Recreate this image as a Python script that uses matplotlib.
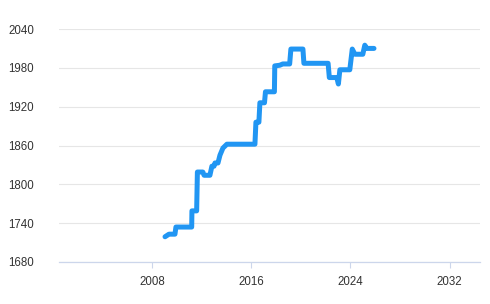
import matplotlib
matplotlib.use("Agg")
from matplotlib import pyplot as plt

plt.rcParams['font.family'] = ['Liberation Sans', 'DejaVu Sans']

# rating over time
years = [2009.05, 2009.37, 2009.85, 2009.93, 2011.2, 2011.22, 2011.6, 2011.66,
         2012.1, 2012.2, 2012.67, 2012.83, 2013.0, 2013.08, 2013.32, 2013.48,
         2013.72, 2014.04, 2016.3, 2016.38, 2016.62, 2016.7, 2017.07, 2017.15,
         2017.87, 2017.9, 2018.3, 2018.55, 2019.1, 2019.2, 2020.17, 2020.25,
         2022.2, 2022.3, 2022.9, 2023.03, 2023.15, 2023.95, 2024.15, 2024.36,
         2025.0, 2025.16, 2025.33, 2025.9]
rating = [1719, 1723, 1723, 1734, 1734, 1759, 1759, 1819,
          1819, 1814, 1814, 1828, 1828, 1833, 1833, 1845,
          1856, 1862, 1862, 1896, 1896, 1926, 1926, 1943,
          1943, 1983, 1984, 1986, 1986, 2009, 2009, 1987,
          1987, 1965, 1965, 1955, 1977, 1977, 2009, 2001,
          2001, 2015, 2010, 2010]

y_ticks = [1680, 1740, 1800, 1860, 1920, 1980, 2040]
x_ticks = [2008, 2016, 2024, 2032]

fig = plt.figure(figsize=(4.9, 3.04), dpi=100)
ax = fig.add_axes([59 / 490, 1 - 262 / 304, 421 / 490, 233 / 304])

ax.plot(years, rating, color='#2196f3', linewidth=3.6,
        solid_joinstyle='round', solid_capstyle='round', zorder=3)

ax.set_xlim(2000.5, 2034.45)
ax.set_ylim(1680, 2040)
ax.set_xticks(x_ticks)
ax.set_xticklabels([str(t) for t in x_ticks])
ax.set_yticks(y_ticks)
ax.set_yticklabels([str(t) for t in y_ticks])

ax.grid(axis='y', color='#e6e6e6', linewidth=0.8)
ax.set_axisbelow(True)
for side in ['top', 'right', 'left']:
    ax.spines[side].set_visible(False)
ax.spines['bottom'].set_color('#ccd6eb')
ax.spines['bottom'].set_linewidth(0.9)

ax.tick_params(axis='y', length=0, pad=18, labelsize=8.3, labelcolor='#333333')
ax.tick_params(axis='x', length=4, width=0.8, color='#ccd6eb', pad=6,
               labelsize=8.3, labelcolor='#333333')

fig.savefig('out.png', dpi=100)
